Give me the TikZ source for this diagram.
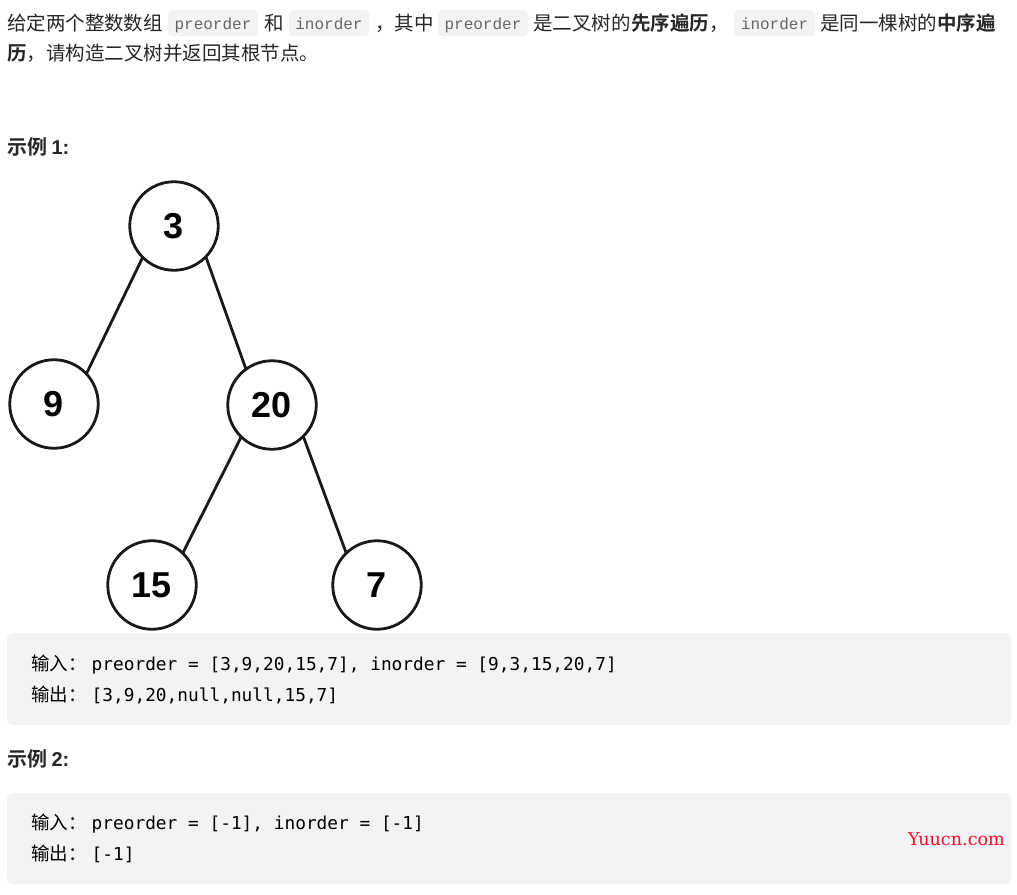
\documentclass[tikz,border=0pt]{standalone}
\usepackage{fontspec}
\setmainfont{Liberation Sans}
\newfontfamily\cjkfont{Noto Sans CJK SC}
\newfontfamily\cjkbold{Noto Sans CJK SC Bold}
\newfontfamily\chipfont{Liberation Mono}
\newfontfamily\blockfont{DejaVu Sans Mono}
\newfontfamily\markfont{DejaVu Serif}
\definecolor{bodytext}{HTML}{262626}
\definecolor{chipgray}{HTML}{F2F3F5}
\definecolor{chiptext}{HTML}{666666}
\definecolor{marknred}{HTML}{FF0A28}
\tikzset{
	para/.style={anchor=base west, inner sep=0pt, outer sep=0pt, text=bodytext, font=\fontsize{19.5}{24}\cjkfont},
	strong/.style={para, font=\fontsize{19.5}{24}\cjkbold},
	chip/.style={fill=chipgray, rounded corners=4pt},
	chiptxt/.style={anchor=base, inner sep=0pt, text=chiptext, font=\fontsize{16}{20}\chipfont},
	block/.style={fill=chipgray, rounded corners=5pt},
	blocktxt/.style={anchor=base west, inner sep=0pt, text=black, font=\fontsize{17.8}{22}\blockfont},
	treenode/.style={circle, draw=black!90, line width=2.8pt, fill=white, minimum size=88.5pt, inner sep=0pt, outer sep=0pt, font=\fontsize{36}{40}\selectfont\bfseries},
	treeedge/.style={draw=black!90, line width=2.8pt},
}
\newcommand{\inlab}{{\fontsize{18.5}{22}\cjkfont 输入：}\hspace{5pt}}
\newcommand{\outlab}{{\fontsize{18.5}{22}\cjkfont 输出：}\hspace{5pt}}
\begin{document}
\begin{tikzpicture}[x=1pt,y=-1pt]
	\useasboundingbox (0,0) rectangle (1017,894);
	% first paragraph
	\fill[chip] (168,10) rectangle (258,36);
	\fill[chip] (289,10) rectangle (369,36);
	\fill[chip] (438,10) rectangle (528,36);
	\fill[chip] (734,10) rectangle (815,36);
	\node[para] (intro) at (7,30) {给定两个整数数组};
	\node[chiptxt] (chipa) at (213,29) {preorder};
	\node[para] (he) at (264,30) {和};
	\node[chiptxt] (chipb) at (329,29) {inorder};
	\node[para] (qizhong) at (375,30) {，其中};
	\node[chiptxt] (chipc) at (483,29) {preorder};
	\node[para] (shi) at (533,30) {是二叉树的};
	\node[strong] (xianxu) at (631,30) {先序遍历};
	\node[para] (comma) at (709,30) {，};
	\node[chiptxt] (chipd) at (774.5,29) {inorder};
	\node[para] (tongyi) at (820,30) {是同一棵树的};
	\node[strong] (zhongxu) at (937,30) {中序遍};
	\node[strong] (li) at (7,60) {历};
	\node[para] (rest) at (27,60) {，请构造二叉树并返回其根节点。};
	% example 1
	\node[strong, font=\fontsize{20}{24}\cjkbold] (ex1) at (7,154) {示例 {\fontfamily{}\rmfamily\bfseries 1:}};
	\node[treenode] (n3) at (174,226) {3};
	\node[treenode] (n9) at (54,404) {9};
	\node[treenode] (n20) at (272,405) {20};
	\node[treenode] (n15) at (152,585) {15};
	\node[treenode] (n7) at (377,585) {7};
	\draw[treeedge] (n3.225) -- (n9.43);
	\draw[treeedge] (n3.-44) -- (n20.126);
	\draw[treeedge] (n20.226) -- (n15.46);
	\draw[treeedge] (n20.-45) -- (n7.134);
	\fill[block] (7,633) rectangle (1011,725);
	\node[blocktxt] (in1) at (31,670) {\inlab preorder = [3,9,20,15,7], inorder = [9,3,15,20,7]};
	\node[blocktxt] (out1) at (31,701) {\outlab [3,9,20,null,null,15,7]};
	% example 2
	\node[strong, font=\fontsize{20}{24}\cjkbold] (ex2) at (7,766) {示例 {\fontfamily{}\rmfamily\bfseries 2:}};
	\fill[block] (7,793) rectangle (1011,884);
	\node[blocktxt] (in2) at (31,829) {\inlab preorder = [-1], inorder = [-1]};
	\node[blocktxt] (out2) at (31,860) {\outlab [-1]};
	\node[anchor=base west, inner sep=0pt, text=marknred, font=\fontsize{17.6}{20}\markfont] (yuucn) at (908,845) {Yuucn.com};
\end{tikzpicture}
\end{document}
